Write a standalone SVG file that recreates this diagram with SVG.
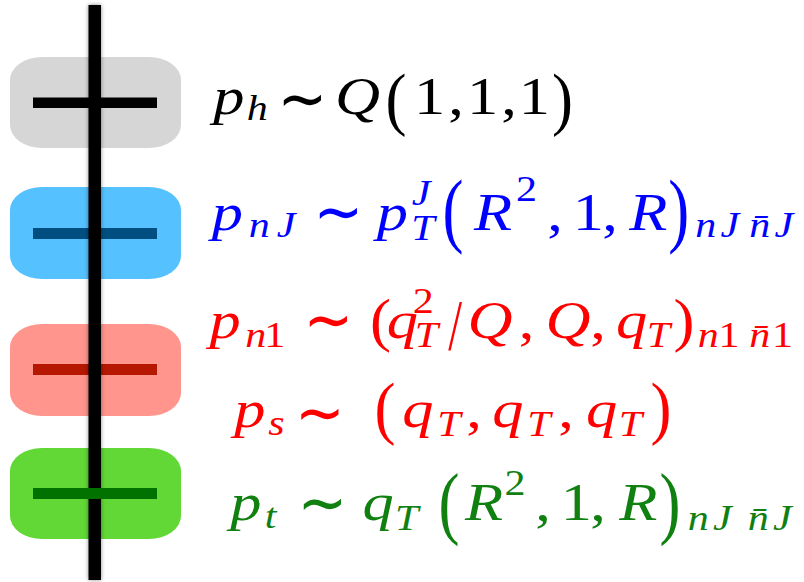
<svg xmlns="http://www.w3.org/2000/svg" width="804" height="582" viewBox="0 0 804 582">
  <defs>
    <filter id="soft" x="-2" y="-0.1" width="5" height="1.2">
      <feDropShadow dx="0" dy="0" stdDeviation="2" flood-color="#000" flood-opacity="0.45"/>
    </filter>
    <style>
      .panel { stroke: none; }
      .m { font-family: "Liberation Serif", "DejaVu Serif", serif; font-size: 52px; text-anchor: middle; }
      .i { font-style: italic; }
      .s { font-size: 35px; }
      .p { font-family: "Liberation Serif", "DejaVu Serif", serif; font-size: 45px; text-anchor: middle; }
      .op { font-family: "DejaVu Sans", sans-serif; font-size: 66px; text-anchor: middle; }
    </style>
  </defs>
  <rect width="804" height="582" fill="#fff"/>

  <!-- mode panels with their momentum bars -->
  <g id="mode-hard">
    <rect class="panel" x="10" y="57" width="171" height="91" rx="32" ry="23" fill="#d6d6d6"/>
    <rect x="33" y="97.5" width="124" height="10.5" fill="#000"/>
  </g>
  <g id="mode-jet">
    <rect class="panel" x="10" y="187" width="171" height="92" rx="32" ry="23" fill="#56c1ff"/>
    <rect x="33" y="228" width="124" height="11" fill="#014e80"/>
  </g>
  <g id="mode-collinear">
    <rect class="panel" x="10" y="324" width="171" height="92" rx="32" ry="23" fill="#ff958c"/>
    <rect x="33" y="364" width="124" height="11" fill="#b51700"/>
  </g>
  <g id="mode-trans">
    <rect class="panel" x="10" y="448" width="171" height="91" rx="32" ry="23" fill="#61d836"/>
  </g>

  <!-- vertical axis through all panels -->
  <g id="connectors">
    <rect x="88.5" y="5" width="12.5" height="575" fill="#000" filter="url(#soft)"/>
  </g>

  <!-- the bar of the lowest panel sits above the axis -->
  <rect id="mode-trans-bar" x="33" y="488" width="124" height="11" fill="#017100"/>

  <!-- scaling labels -->
  <g id="label-hard" fill="#000">
    <g transform="scale(1.2,1)">
      <text class="m"><tspan class="i" x="190.8" y="114">p</tspan><tspan class="i s" x="214.4" y="120">h</tspan><tspan class="i" x="297.9" y="114">Q</tspan><tspan x="357.9" y="114">1</tspan><tspan x="380" y="114">,</tspan><tspan x="402.1" y="114">1</tspan><tspan x="424.2" y="114">,</tspan><tspan x="445.4" y="114">1</tspan></text>
    </g>
    <text class="p" transform="translate(396,121.8) scale(1.4,1.537)">(</text>
    <text class="p" transform="translate(562.5,121.8) scale(1.4,1.537)">)</text>
    <text class="op" transform="translate(302.3,121) scale(0.9,1)">∼</text>
  </g>

  <g id="label-jet" fill="#0000ff">
    <g transform="scale(1.2,1)">
      <text class="m"><tspan class="i" x="189.4" y="230">p</tspan><tspan class="i s" x="216" y="237">n</tspan><tspan class="i s" x="238.3" y="237">J</tspan><tspan class="i" x="326.9" y="230">p</tspan><tspan class="i s" x="350.8" y="205">J</tspan><tspan class="i s" x="352.5" y="240">T</tspan><tspan class="i" x="410.8" y="230">R</tspan><tspan class="s" x="438.75" y="201">2</tspan><tspan x="462.5" y="230">,</tspan><tspan x="490.25" y="230">1</tspan><tspan x="508.3" y="230">,</tspan><tspan class="i" x="540.25" y="230">R</tspan><tspan class="i s" x="588.2" y="237">n</tspan><tspan class="i s" x="608.3" y="237">J</tspan><tspan class="i s" x="633.2" y="237">n̄</tspan><tspan class="i s" x="653.3" y="237">J</tspan></text>
    </g>
    <text class="p" transform="translate(453,237.2) scale(1.4,1.824)">(</text>
    <text class="p" transform="translate(678.8,237.2) scale(1.4,1.824)">)</text>
    <text class="op" transform="translate(338.5,233.5) scale(0.9,1)">∼</text>
  </g>

  <g id="label-collinear" fill="#ff0000">
    <g transform="scale(1.2,1)">
      <text class="m"><tspan class="i" x="187.5" y="338">p</tspan><tspan class="i s" x="213.2" y="347">n</tspan><tspan class="s" x="229" y="347">1</tspan><tspan class="i" x="335.4" y="338">q</tspan><tspan class="s" x="352.75" y="313">2</tspan><tspan class="i s" x="355.4" y="347">T</tspan><tspan class="i" x="408.3" y="338">Q</tspan><tspan x="438.75" y="338">,</tspan><tspan class="i" x="473.3" y="338">Q</tspan><tspan x="498.3" y="338">,</tspan><tspan class="i" x="526.4" y="338">q</tspan><tspan class="i s" x="548.6" y="347">T</tspan><tspan class="i s" x="590.25" y="347">n</tspan><tspan class="s" x="607.5" y="347">1</tspan><tspan class="i s" x="633.2" y="347">n̄</tspan><tspan class="s" x="652.1" y="347">1</tspan></text>
    </g>
    <text class="p" transform="translate(380.5,339.6) scale(1.4,1.303)">(</text>
    <text class="p" transform="translate(455,349) scale(1.1,1.61)">/</text>
    <text class="p" transform="translate(684,339.6) scale(1.4,1.303)">)</text>
    <text class="op" transform="translate(328.3,341.5) scale(0.9,1)">∼</text>
  </g>

  <g id="label-soft" fill="#ff0000">
    <g transform="scale(1.2,1)">
      <text class="m"><tspan class="i" x="208.3" y="427">p</tspan><tspan class="i s" x="230.4" y="435">s</tspan><tspan class="i" x="348.3" y="427">q</tspan><tspan class="i s" x="374.2" y="436">T</tspan><tspan x="395" y="427">,</tspan><tspan class="i" x="423.3" y="427">q</tspan><tspan class="i s" x="449.2" y="436">T</tspan><tspan x="471.7" y="427">,</tspan><tspan class="i" x="501.25" y="427">q</tspan><tspan class="i s" x="525.4" y="436">T</tspan></text>
    </g>
    <text class="p" transform="translate(385,430.6) scale(1.4,1.563)">(</text>
    <text class="p" transform="translate(661,430.6) scale(1.4,1.563)">)</text>
    <text class="op" transform="translate(320,435) scale(0.9,1)">∼</text>
  </g>

  <g id="label-trans" fill="#108010">
    <g transform="scale(1.2,1)">
      <text class="m"><tspan class="i" x="204.8" y="520">p</tspan><tspan class="i s" x="225.4" y="528">t</tspan><tspan class="i" x="315" y="520">q</tspan><tspan class="i s" x="339" y="530">T</tspan><tspan class="i" x="403.3" y="520">R</tspan><tspan class="s" x="429.2" y="495">2</tspan><tspan x="452.5" y="520">,</tspan><tspan x="480.4" y="520">1</tspan><tspan x="498.3" y="520">,</tspan><tspan class="i" x="531.9" y="520">R</tspan><tspan class="i s" x="581.9" y="530">n</tspan><tspan class="i s" x="601.9" y="530">J</tspan><tspan class="i s" x="631.9" y="530">n̄</tspan><tspan class="i s" x="651.9" y="530">J</tspan></text>
    </g>
    <text class="p" transform="translate(449,528.9) scale(1.4,1.772)">(</text>
    <text class="p" transform="translate(670,528.9) scale(1.4,1.772)">)</text>
    <text class="op" transform="translate(322.3,525) scale(0.9,1)">∼</text>
  </g>
</svg>
